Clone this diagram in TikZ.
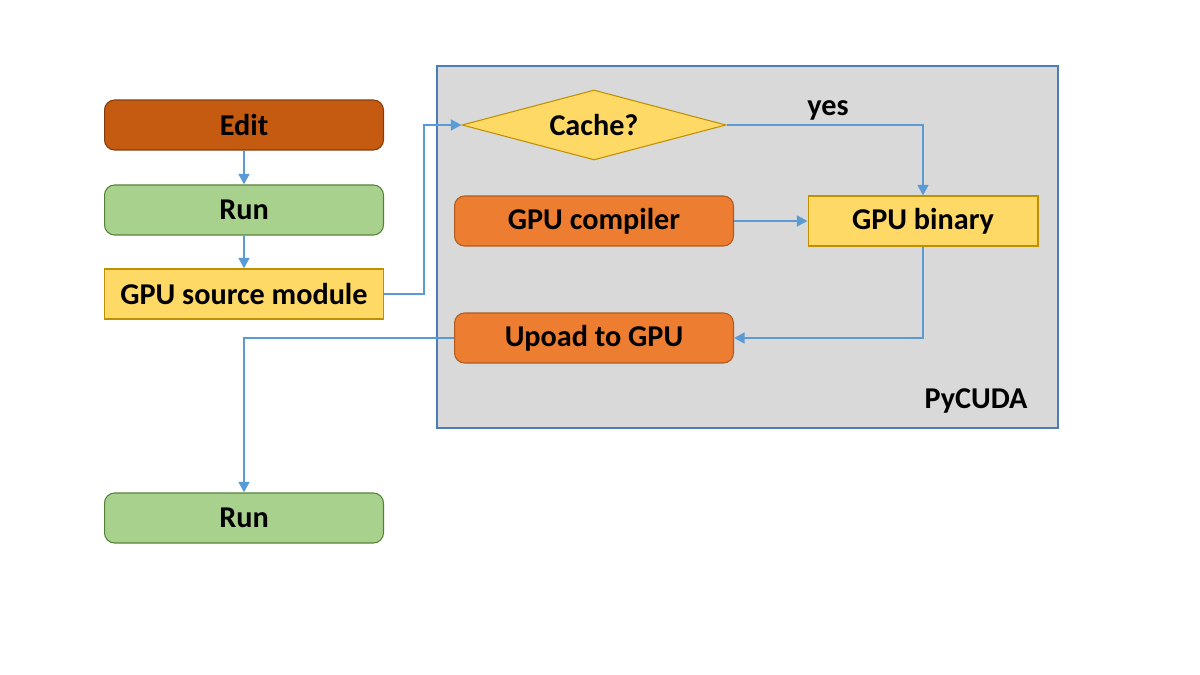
\documentclass[tikz,border=0pt]{standalone}
\usepackage{fontspec}
\setmainfont{Carlito}
\usetikzlibrary{shapes.geometric,arrows.meta}
\definecolor{editc}{HTML}{C55A11}
\definecolor{editb}{HTML}{843C0C}
\definecolor{runc}{HTML}{A9D18E}
\definecolor{runb}{HTML}{548235}
\definecolor{yelc}{HTML}{FFD966}
\definecolor{yelb}{HTML}{BF9000}
\definecolor{orac}{HTML}{ED7D31}
\definecolor{orab}{HTML}{AE5A21}
\definecolor{boxc}{HTML}{D9D9D9}
\definecolor{boxb}{HTML}{4A7EBB}
\definecolor{arrc}{HTML}{5B9BD5}
\tikzset{
  lbl/.style={font=\fontsize{17.2}{19}\selectfont\bfseries, text=black},
  boxnode/.style={lbl, minimum width=5.58cm, minimum height=1.0cm, inner sep=0pt, line width=0.6pt},
  rbox/.style={boxnode, rounded corners=0.2cm},
  editbox/.style={rbox, fill=editc, draw=editb},
  runbox/.style={rbox, fill=runc, draw=runb},
  srcbox/.style={boxnode, fill=yelc, draw=yelb},
  orabox/.style={rbox, fill=orac, draw=orab},
  conn/.style={draw=arrc, line width=1.5pt, -{Triangle[length=6pt,width=6pt]}},
}
\begin{document}
\begin{tikzpicture}[x=0.02cm,y=-0.02cm]
\useasboundingbox (0,0) rectangle (1200,675);
\fill[white] (0,0) rectangle (1200,675);
\draw[fill=boxc, draw=boxb, line width=0.6pt] (437,66) rectangle (1058,428);
\node[editbox] (edit) at (244,125) {Edit};
\node[runbox] (run1) at (244,210) {Run};
\node[srcbox] (src) at (244,294) {GPU source module};
\node[runbox] (run2) at (244,518) {Run};
\node[diamond, aspect=3.77, fill=yelc, draw=yelb, line width=0.6pt, minimum width=5.28cm, minimum height=1.4cm, inner sep=0pt, lbl] (cache) at (594,125) {Cache?};
\node[orabox] (comp) at (594,221) {GPU compiler};
\node[srcbox, minimum width=4.6cm] (bin) at (923,221) {GPU binary};
\node[orabox] (up) at (594,338) {Upoad to GPU};
\node[lbl, anchor=center] (py) at (976,401) {PyCUDA};
\coordinate (c1) at (424,294);
\coordinate (c2) at (424,125);
\coordinate (c3) at (923,125);
\coordinate (c4) at (923,338);
\coordinate (c5) at (244,338);
\node[lbl] (yes) at (828,110) {yes};
\draw[conn] (edit) -- (run1);
\draw[conn] (run1) -- (src);
\draw[conn] (src.east) -- (c1) -- (c2) -- (cache.west);
\draw[conn] (cache.east) -- (c3) -- (bin.north);
\draw[conn] (comp.east) -- (bin.west);
\draw[conn] (bin.south) -- (c4) -- (up.east);
\draw[conn] (up.west) -- (c5) -- (run2.north);
\end{tikzpicture}
\end{document}
